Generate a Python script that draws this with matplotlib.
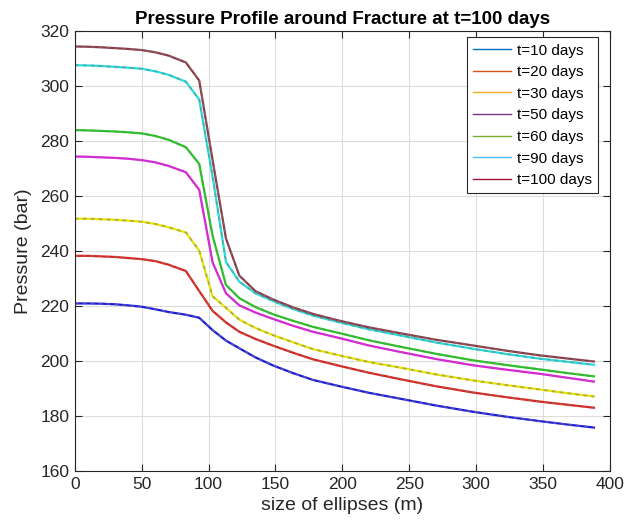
import numpy as np
import matplotlib
matplotlib.use("Agg")
import matplotlib.pyplot as plt
from matplotlib.lines import Line2D

plt.rcParams["font.family"] = ["Liberation Sans", "DejaVu Sans"]

# ellipse size (m)
x_m = [0, 10, 20, 30, 40, 50, 60, 70, 83, 93, 103, 113, 123, 135, 148, 163, 178,
       198, 220, 243, 270, 298, 323, 348, 368, 388]

# pressure (bar) for each time step
p_10 = [220.9, 220.9, 220.8, 220.6, 220.2, 219.7, 218.8, 217.8, 216.8, 215.7, 211.2, 207.4,
        204.6, 201.3, 198.4, 195.6, 193.1, 190.8, 188.4, 186.3, 183.8, 181.5, 179.7, 178.1, 176.9, 175.8]
p_20 = [238.2, 238.2, 238.0, 237.8, 237.4, 237.0, 236.3, 235.0, 232.7, 225.4, 218.2, 214.0,
        210.6, 208.0, 205.6, 203.0, 200.6, 198.2, 195.7, 193.4, 190.8, 188.5, 186.8, 185.2, 184.1, 183.0]
p_30 = [251.7, 251.7, 251.5, 251.3, 251.0, 250.6, 249.8, 248.6, 246.7, 240.1, 223.5, 219.3,
        215.0, 212.0, 209.4, 206.8, 204.3, 202.0, 199.6, 197.6, 195.1, 192.9, 191.2, 189.6, 188.3, 187.1]
p_50 = [274.3, 274.2, 274.0, 273.8, 273.5, 273.0, 272.2, 270.9, 268.6, 262.2, 235.8, 224.6,
        220.2, 217.6, 215.3, 212.8, 210.6, 208.3, 205.6, 203.3, 200.7, 198.4, 196.8, 195.3, 193.9, 192.5]
p_60 = [283.9, 283.8, 283.6, 283.4, 283.1, 282.7, 281.8, 280.4, 277.7, 271.6, 245.5, 227.6,
        222.8, 219.6, 217.0, 214.6, 212.4, 210.1, 207.5, 205.2, 202.6, 200.2, 198.5, 196.9, 195.6, 194.4]
p_90 = [307.5, 307.4, 307.2, 306.9, 306.6, 306.2, 305.3, 304.0, 301.5, 295.0, 267.0, 236.0,
        228.8, 224.6, 221.8, 218.9, 216.5, 214.0, 211.5, 209.3, 206.7, 204.4, 202.5, 200.8, 199.7, 198.6]
p_100 = [314.3, 314.2, 314.0, 313.7, 313.4, 313.0, 312.2, 311.0, 308.5, 301.9, 273.0, 244.5,
         231.0, 225.4, 222.4, 219.5, 217.1, 214.6, 212.2, 210.1, 207.7, 205.6, 203.7, 202.0, 200.9, 199.8]

labels = ["t=10 days", "t=20 days", "t=30 days", "t=50 days", "t=60 days", "t=90 days", "t=100 days"]
series = [p_10, p_20, p_30, p_50, p_60, p_90, p_100]

# colours of the drawn curves
line_colors = ["#1a1ae6", "#e0201a", "#e6e600", "#e619e6", "#1fcc1f", "#1fe0e0", "#8c3a48"]
# colours shown in the legend (matlab defaults)
legend_colors = ["#0072BD", "#D95319", "#EDB120", "#7E2F8E", "#77AC30", "#4DBEEE", "#A2142F"]

fig = plt.figure(figsize=(6.34, 5.31), dpi=100)
ax = fig.add_axes([0.118, 0.113, 0.844, 0.829])

for p, c in zip(series, line_colors):
    ax.plot(x_m, p, color=c, lw=1.6, solid_joinstyle="miter")
    ax.plot(x_m, p, color="#857a78", lw=1.3, alpha=0.55, dashes=(2.0, 2.4))

ax.set_xlim(0, 400)
ax.set_ylim(160, 320)
ax.set_xticks(np.arange(0, 401, 50))
ax.set_yticks(np.arange(160, 321, 20))
ax.grid(True, color="#dcdcdc", lw=0.8)
ax.set_axisbelow(True)
ax.tick_params(direction="in", top=True, right=True, length=5, labelsize=12.5,
               colors="#262626", pad=4)
for s in ax.spines.values():
    s.set_color("#262626")
    s.set_linewidth(0.8)

ax.set_xlabel("size of ellipses (m)", fontsize=14, color="#262626", labelpad=4)
ax.set_ylabel("Pressure (bar)", fontsize=14, color="#262626", labelpad=6)
ax.set_title("Pressure Profile around Fracture at t=100 days", fontsize=13.5,
             fontweight="bold", pad=5)

handles = [Line2D([], [], color=c, lw=1.0) for c in legend_colors]
leg = ax.legend(handles, labels, loc="upper right", bbox_to_anchor=(0.978, 0.985),
                fontsize=11, frameon=True,
                fancybox=False, edgecolor="#262626", framealpha=1,
                handlelength=2.5, handletextpad=0.4, labelspacing=0.5,
                borderaxespad=0.0, borderpad=0.4)
leg.get_frame().set_linewidth(0.8)

fig.savefig("out.png", dpi=100)
